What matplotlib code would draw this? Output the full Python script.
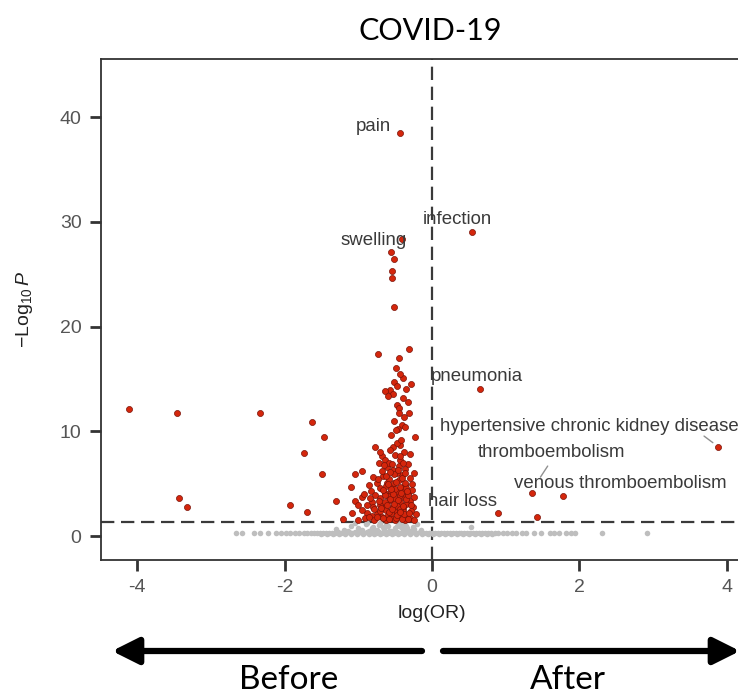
import numpy as np
import matplotlib.pyplot as plt

plt.rcParams['font.family'] = ['Liberation Sans', 'DejaVu Sans']
plt.rcParams['mathtext.fontset'] = 'custom'
plt.rcParams['mathtext.rm'] = 'Liberation Sans'
plt.rcParams['mathtext.it'] = 'Liberation Sans:italic'

# significant terms (red)
red_x = [-0.43, 0.54, -0.41, -0.56, -0.52, -0.54, -0.54, -0.52, -0.31, -0.73,
         -0.49, -0.39, -0.52, -0.35, -0.57, -0.64, -0.53, -0.60, -0.33, -0.48,
         -0.45, -0.31, -0.38, -0.41, -0.46, -0.49, -0.23, -0.77, -0.53, -0.43,
         -0.57, -0.38, 0.65, 3.88,
         -4.11, -3.46, -2.33, -1.63, -1.47, -1.74, -1.49, -3.43, -3.32, -1.93,
         -1.70, -1.30, 1.36, 1.78, 0.89, 1.42,
         -0.30, -0.50, -0.68, -0.64, -0.43, -0.33, -0.72, -0.61, -0.53, -1.04,
         -0.95, -0.80, -0.66, -0.41, -0.61, -0.75, -1.10, -0.37, -0.54, -0.95,
         -1.04, -0.64, -0.46, -0.33, -0.81, -0.71, -0.57, -0.43, -0.30, -1.00,
         -1.09, -0.80, -0.66, -0.53, -0.39, -0.26, -0.88, -0.75, -0.60, -0.46,
         -0.33, -1.21, -0.91,
         -0.48, -0.36, -0.58, -0.45, -0.30, -0.70, -0.50, -0.40, -0.27, -0.83,
         -0.60, -0.38, -0.50, -0.25, -0.88, -0.70, -0.47, -0.35, -0.62, -0.52,
         -0.40, -0.28, -0.70, -0.95, -0.82, -0.68, -0.55, -0.42, -0.30, -0.22,
         -0.78, -0.63, -0.50, -0.37, -0.25, -1.00, -0.56, -0.44, -0.64, -0.77,
         -0.56, -0.44, -0.35, -0.63, -0.52, -0.68, -0.58, -0.45, -0.40, -0.48,
         -0.42, -0.55, -0.36, -0.52, -0.45, -0.40, -0.47, -0.43, -0.28, -0.45,
         -0.58, -0.49, -0.41, -0.33, -0.66, -0.74, -0.86, -0.59, -0.47, -0.38,
         -0.31, -0.54, -0.43, -0.69, -0.79, -0.61, -0.51, -0.39, -0.29, -0.57,
         -0.46, -0.35, -0.72, -0.64, -0.53, -0.42, -0.32, -0.84, -0.67, -0.55,
         -0.44, -0.34, -0.60, -0.49, -0.37, -0.27, -0.73, -0.62, -0.51, -0.41,
         -0.92, -0.85, -0.57, -0.46, -0.36, -0.65, -0.54, -0.44, -0.24, -0.71]
red_y = [38.5, 29.0, 28.4, 27.1, 26.4, 25.3, 24.6, 21.9, 17.9, 17.4,
         16.0, 15.1, 14.7, 14.0, 13.9, 13.8, 13.6, 13.4, 12.8, 12.5,
         12.2, 11.7, 11.4, 10.6, 10.2, 10.1, 9.5, 8.5, 8.5, 8.7,
         8.2, 8.0, 14.0, 8.5,
         12.1, 11.7, 11.7, 10.9, 9.5, 7.9, 5.9, 3.6, 2.8, 3.0,
         2.3, 3.3, 4.1, 3.8, 2.2, 1.8,
         7.8, 7.7, 7.6, 7.3, 7.3, 6.9, 7.0, 6.6, 6.3, 5.9,
         6.2, 5.6, 5.7, 5.8, 5.1, 5.1, 4.7, 4.9, 4.7, 3.7,
         3.3, 4.1, 4.2, 4.1, 3.2, 3.6, 3.4, 3.2, 3.3, 3.0,
         2.2, 2.8, 2.7, 2.8, 2.7, 2.8, 2.2, 2.1, 2.0, 2.2,
         2.0, 1.6, 1.7,
         6.0, 6.4, 5.4, 5.3, 5.5, 4.6, 4.5, 4.4, 4.4, 4.3,
         3.8, 3.7, 3.6, 3.7, 3.0, 3.0, 2.9, 3.1, 2.5, 2.4,
         2.4, 2.4, 2.4, 2.5, 1.9, 1.8, 1.7, 1.8, 1.7, 2.1,
         1.5, 1.5, 1.5, 1.5, 1.5, 1.5, 2.2, 2.6, 3.2, 3.9,
         4.3, 3.9, 4.6, 4.8, 5.1, 6.2, 7.0, 6.7, 7.0, 8.9,
         9.2, 9.6, 10.4, 11.0, 11.7, 13.2, 14.3, 15.5, 14.5, 17.0,
         1.6, 1.7, 1.6, 1.6, 1.7, 1.8, 1.8, 2.3, 2.0, 2.1,
         2.2, 2.6, 2.3, 2.7, 2.6, 3.0, 3.1, 2.9, 3.0, 3.5,
         3.4, 3.5, 3.3, 3.9, 4.0, 4.1, 3.9, 3.6, 4.4, 4.5,
         4.7, 4.3, 5.0, 5.2, 5.1, 5.0, 5.4, 5.7, 5.9, 5.5,
         4.0, 4.9, 6.1, 6.3, 6.0, 6.8, 6.9, 7.6, 6.0, 8.0]

# non-significant terms (grey)
grey_x = [-2.66, -2.58, -2.42, -2.33, -2.22, -2.12, -2.05, -1.98, -1.92, -1.86,
          -1.80, -1.74, -1.69, -1.64, -1.60, -1.56, -1.52, -1.48, -1.44, -1.40,
          -1.36, -1.32, -1.28, -1.24, -1.20, -1.16, -1.12, -1.08, -1.04, -1.00,
          -0.96, -0.92, -0.88, -0.84, -0.80, -0.76, -0.72, -0.68, -0.64, -0.60,
          -0.56, -0.52, -0.48, -0.44, -0.40, -0.36, -0.32, -0.28, -0.24, -0.20,
          -0.16, -0.12, -0.08, -0.04, 0.00, 0.04, 0.08, 0.12, 0.16, 0.20,
          0.24, 0.28, 0.32, 0.36, 0.40, 0.44, 0.48, 0.52, 0.56, 0.60,
          0.64, 0.68, 0.72, 0.76, 0.80, 0.85, 0.90, 0.96, 1.02, 1.08,
          1.14, 1.22, 1.28, 1.38, 1.48, 1.60, 1.66, 1.72, 1.82, 1.88,
          1.94, 2.31, 2.92,
          -1.10, -1.00, -0.90, -0.80, -0.70, -0.60, -0.50, -0.45, -0.35, -0.25,
          -0.20, -0.75, -0.55, -0.85, -0.95, -0.65, -0.40, -0.30, 0.53, -1.20,
          -1.30, -0.15, -1.05, -0.88, -0.62, -0.38,
          -1.50, -1.42, -1.34, -1.26, -1.18, -1.10, -1.02, -0.94, -0.86, -0.78,
          -0.70, -0.62, -0.54, -0.46, -0.38, -0.30, -0.22, -0.14, -0.06, 0.02,
          0.10, 0.18, 0.26, 0.34, 0.42, 0.50, 0.58, 0.66, 0.74, 0.82,
          -0.98, -0.82, -0.66, -0.58, -0.42, -0.26, -1.14, -0.72, -0.48, -0.34]
grey_y = [0.25, 0.25, 0.25, 0.25, 0.25, 0.25, 0.25, 0.25, 0.25, 0.25,
          0.25, 0.25, 0.25, 0.3, 0.25, 0.3, 0.25, 0.3, 0.25, 0.3,
          0.25, 0.3, 0.35, 0.25, 0.4, 0.3, 0.35, 0.25, 0.4, 0.3,
          0.35, 0.25, 0.4, 0.3, 0.35, 0.25, 0.4, 0.3, 0.35, 0.25,
          0.4, 0.3, 0.35, 0.25, 0.4, 0.3, 0.35, 0.25, 0.4, 0.3,
          0.35, 0.25, 0.3, 0.25, 0.3, 0.25, 0.3, 0.25, 0.3, 0.25,
          0.3, 0.25, 0.3, 0.25, 0.3, 0.25, 0.3, 0.25, 0.25, 0.25,
          0.25, 0.25, 0.25, 0.25, 0.25, 0.25, 0.25, 0.25, 0.25, 0.25,
          0.25, 0.25, 0.25, 0.25, 0.25, 0.25, 0.25, 0.25, 0.25, 0.25,
          0.25, 0.25, 0.3,
          1.0, 0.8, 1.1, 0.9, 1.2, 1.0, 0.8, 1.2, 1.0, 0.7,
          1.1, 0.6, 0.5, 0.5, 0.6, 0.7, 0.6, 0.5, 0.9, 0.6,
          0.7, 0.6, 1.2, 1.25, 1.2, 1.15,
          0.15, 0.15, 0.15, 0.15, 0.15, 0.15, 0.15, 0.15, 0.15, 0.15,
          0.15, 0.15, 0.15, 0.15, 0.15, 0.15, 0.15, 0.15, 0.15, 0.15,
          0.15, 0.15, 0.15, 0.15, 0.15, 0.15, 0.15, 0.15, 0.15, 0.15,
          0.55, 0.75, 0.9, 0.45, 0.85, 0.9, 0.45, 1.05, 0.95, 0.8]

# labelled terms: name, label position
lab_names = ['pain', 'infection', 'swelling', 'pneumonia', 'thromboembolism',
             'venous thromboembolism', 'hair loss']
lab_tx = [-0.79, 0.35, -0.79, 0.61, 1.62, 2.56, 0.42]
lab_ty = [39.1, 30.2, 28.2, 15.2, 7.93, 5.06, 3.25]

threshold = -np.log10(0.05)

fig = plt.figure(figsize=(7.38, 6.94), dpi=100)
ax = fig.add_axes([101 / 738, 134 / 694, 662 / 738, 501 / 694])

ax.scatter(grey_x, grey_y, s=16, color='#BEBEBE', linewidths=0, zorder=2)
ax.scatter(red_x, red_y, s=19, color='#D4260C', edgecolors='#7A1208',
           linewidths=0.5, zorder=3)

ax.axhline(threshold, color='#3a3a3a', lw=1.6, ls=(0, (6, 3)), zorder=1)
ax.axvline(0, color='#3a3a3a', lw=1.6, ls=(0, (6, 3)), zorder=1)

for name, tx, ty in zip(lab_names, lab_tx, lab_ty):
    ax.text(tx, ty, name, ha='center', va='center', fontsize=13.4,
            color='#3a3a3a', zorder=4)

# thromboembolism segment
ax.annotate('', xy=(1.45, 5.4), xytext=(1.59, 6.9),
            arrowprops=dict(arrowstyle='-', color='#909090', lw=1))
# hypertensive chronic kidney disease
ax.text(0.11, 10.5, 'hypertensive chronic kidney disease', ha='left',
        va='center', fontsize=13.4, color='#3a3a3a', zorder=4)
ax.annotate('', xy=(3.84, 8.75), xytext=(3.66, 9.7),
            arrowprops=dict(arrowstyle='-', color='#909090', lw=1))

ax.set_xlim(-4.49, 4.49)
ax.set_ylim(-2.29, 45.54)
ax.set_xticks([-4, -2, 0, 2, 4])
ax.set_xticklabels(['-4', '-2', '0', '2', '4'])
ax.set_yticks([0, 10, 20, 30, 40])
ax.tick_params(length=8, width=2, color='#333333', labelcolor='#555555',
               labelsize=14, pad=6)
for sp in ax.spines.values():
    sp.set_linewidth(1.3)
    sp.set_color('#333333')

ax.set_xlabel('log(OR)', fontsize=14, color='#222222', labelpad=6)
ax.set_ylabel(r'$-\mathrm{Log}_{10}\,\mathit{P}$', fontsize=14,
              color='#222222', labelpad=18)

fig.text(430 / 738, 1 - 31 / 694, 'COVID-19', ha='center', va='center',
         fontsize=22, family='Lato', color='black')

# direction arrows
fig.add_artist(plt.matplotlib.patches.FancyArrowPatch(
    (422 / 738, 1 - 651 / 694), (112 / 738, 1 - 651 / 694),
    transform=fig.transFigure, arrowstyle='-|>,head_length=0.8,head_width=0.4',
    mutation_scale=20, lw=4.5, color='black', shrinkA=0, shrinkB=0))
fig.add_artist(plt.matplotlib.patches.FancyArrowPatch(
    (443 / 738, 1 - 651 / 694), (740 / 738, 1 - 651 / 694),
    transform=fig.transFigure, arrowstyle='-|>,head_length=0.8,head_width=0.4',
    mutation_scale=20, lw=4.5, color='black', shrinkA=0, shrinkB=0))
fig.text(289 / 738, 1 - 680 / 694, 'Before', ha='center', va='center',
         fontsize=24, family='Lato', color='black')
fig.text(568 / 738, 1 - 680 / 694, 'After', ha='center', va='center',
         fontsize=24, family='Lato', color='black')

fig.savefig('out.png', dpi=100)
